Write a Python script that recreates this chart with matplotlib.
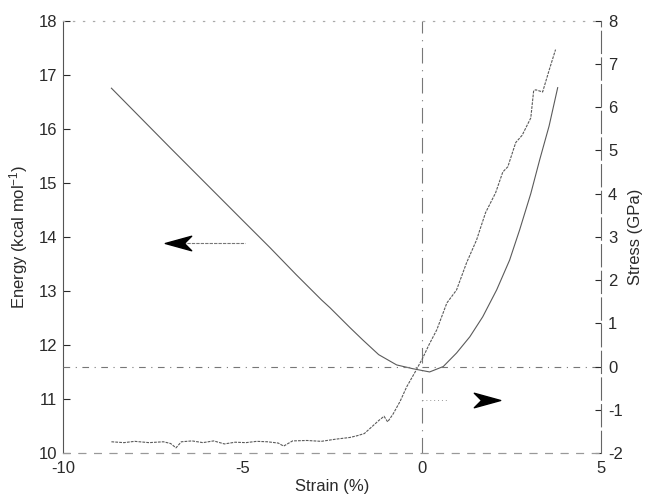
import matplotlib
matplotlib.use("Agg")
import matplotlib.pyplot as plt
from matplotlib.path import Path

plt.rcParams['font.family'] = ['Liberation Sans', 'DejaVu Sans']
plt.rcParams['mathtext.default'] = 'regular'

# Energy vs strain (left axis)
energy_strain = [-8.65, -7.0, -5.0, -4.23, -3.5, -2.79, -2.56, -2.0, -1.64, -1.2,
                 -0.70, -0.25, 0.22, 0.6, 0.97, 1.34, 1.70, 2.09, 2.45, 2.73,
                 3.04, 3.29, 3.55, 3.79]
energy_vals = [16.75, 15.64, 14.31, 13.80, 13.30, 12.83, 12.69, 12.32, 12.09, 11.82,
               11.63, 11.56, 11.50, 11.60, 11.85, 12.15, 12.52, 13.02, 13.57, 14.13,
               14.80, 15.43, 16.05, 16.76]

# Stress vs strain (right axis)
stress_strain = [-8.65, -8.3, -8.0, -7.6, -7.2, -7.0, -6.85, -6.7, -6.4, -6.1,
                 -5.8, -5.5, -5.2, -4.9, -4.6, -4.3, -4.0, -3.85, -3.6, -3.2,
                 -2.8, -2.4, -2.0, -1.8, -1.6, -1.4, -1.2, -1.05, -0.95, -0.8,
                 -0.6, -0.42, -0.2, 0.03, 0.2, 0.42, 0.7, 0.97, 1.25, 1.53,
                 1.62, 1.78, 2.06, 2.26, 2.40, 2.62, 2.8, 3.04, 3.12, 3.18,
                 3.37, 3.55, 3.73]
stress_vals = [-1.74, -1.76, -1.73, -1.76, -1.74, -1.78, -1.88, -1.74, -1.72, -1.76,
               -1.72, -1.79, -1.75, -1.76, -1.73, -1.74, -1.77, -1.84, -1.72, -1.71,
               -1.73, -1.68, -1.64, -1.60, -1.55, -1.40, -1.25, -1.15, -1.28, -1.10,
               -0.80, -0.47, -0.15, 0.20, 0.50, 0.85, 1.47, 1.77, 2.40, 2.93,
               3.16, 3.56, 4.02, 4.50, 4.62, 5.18, 5.35, 5.75, 6.38, 6.40,
               6.35, 6.85, 7.33]

x_ticks = [-10, -5, 0, 5]
energy_ticks = [10, 11, 12, 13, 14, 15, 16, 17, 18]
stress_ticks = [-2, -1, 0, 1, 2, 3, 4, 5, 6, 7, 8]

fig = plt.figure(figsize=(6.46, 4.97), dpi=100)
ax = fig.add_axes([0.0975, 0.0885, 0.833, 0.870])
ax2 = ax.twinx()

ink = '#2a2a2a'
line_col = '#5a5a5a'

ax.set_xlim(-10, 5)
ax.set_ylim(10, 18)
ax2.set_ylim(-2, 8)

# reference lines
ax2.axhline(0, color='#777777', lw=0.8, ls=(0, (6, 5, 1, 5)), zorder=1)
ax.axvline(0, color='#777777', lw=0.8, ls=(0, (14, 6, 1, 6)), zorder=1)

ax.plot(energy_strain, energy_vals, color=line_col, lw=0.8, zorder=3)
ax2.plot(stress_strain, stress_vals, color=line_col, lw=0.8, ls=(0, (2.5, 1)), zorder=3)

# arrowhead marker (concave)
head = Path([(1, 0), (-1, 0.55), (-0.45, 0), (-1, -0.55), (1, 0)],
            [Path.MOVETO, Path.LINETO, Path.LINETO, Path.LINETO, Path.CLOSEPOLY])
head_left = Path([(-x, y) for x, y in head.vertices], head.codes)

# energy arrow pointing left
ax.plot([-6.8, -4.93], [13.89, 13.89], color='#777777', lw=0.8, ls=(0, (3, 1)))
ax.plot([-6.8], [13.89], marker=head_left, markersize=19, color='black', mec='black')
# stress arrow pointing right
ax2.plot([0.0, 0.7], [-0.77, -0.77], color='#999999', lw=0.7, ls=(0, (1, 3)))
ax2.plot([1.82], [-0.77], marker=head, markersize=19, color='black', mec='black')

ax.set_xticks(x_ticks)
ax.set_xticklabels([str(v) for v in x_ticks])
ax.set_yticks(energy_ticks)
ax.set_yticklabels([str(v) for v in energy_ticks])
ax2.set_yticks(stress_ticks)
ax2.set_yticklabels([str(v) for v in stress_ticks])

ax.tick_params(axis='x', direction='in', length=0, pad=6, labelsize=12, colors=ink)
ax.tick_params(axis='y', direction='in', length=5, width=0.8, pad=4, labelsize=12, colors=ink)
ax2.tick_params(axis='y', direction='in', length=4, width=0.8, pad=5, labelsize=12, colors=ink)

ax.set_xlabel('Strain (%)', fontsize=12, color=ink, labelpad=2)
ax.set_ylabel('Energy (kcal mol$^{-1}$)', fontsize=12, color=ink, labelpad=6)
ax2.set_ylabel('Stress (GPa)', fontsize=12, color=ink, rotation=90, labelpad=4)

for a in (ax, ax2):
    a.spines['top'].set_color('#aaaaaa')
    a.spines['top'].set_linestyle((0, (1, 8)))
    a.spines['bottom'].set_color('#999999')
    a.spines['bottom'].set_linestyle((0, (6, 8)))
    a.spines['left'].set_color('#555555')
    a.spines['right'].set_color('#666666')
    a.spines['right'].set_linestyle((0, (20, 4)))
    for s in a.spines.values():
        s.set_linewidth(0.8)
ax2.spines['left'].set_visible(False)
ax.spines['right'].set_visible(False)

fig.savefig('out.png', dpi=100)
